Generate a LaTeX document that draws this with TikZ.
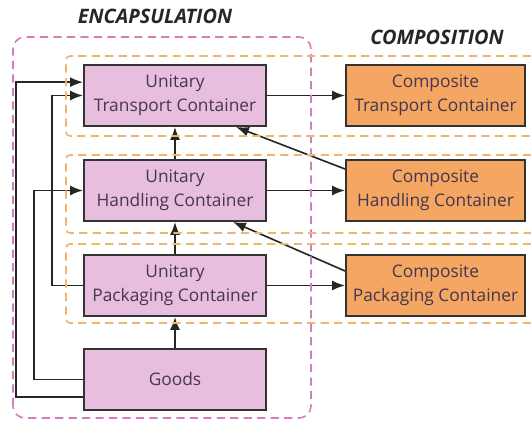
\documentclass[tikz,border=0pt]{standalone}
\usepackage{fontspec}
\setmainfont{Open Sans}
\usetikzlibrary{positioning,arrows.meta}

\definecolor{unitfill}{RGB}{232,190,222}
\definecolor{compfill}{RGB}{244,166,98}
\definecolor{encline}{RGB}{214,124,184}
\definecolor{compline}{RGB}{243,178,112}
\definecolor{boxtext}{RGB}{68,55,78}

\begin{document}
\begin{tikzpicture}[
        node distance=0.96cm and 2.34cm, % Расстояния между блоками
        box/.style={draw=black!80, line width=1.7pt, minimum height=1.83cm, align=center, text=boxtext, font=\fontsize{14.8}{20.5}\selectfont},
        unit/.style={box, fill=unitfill, minimum width=5.46cm}, % Одиночные контейнеры
        comp/.style={box, fill=compfill, minimum width=5.37cm}, % Составные контейнеры
        flow/.style={draw=black!85, line width=1.4pt, -{Latex[length=11pt,width=8.5pt]}},
        frame/.style={dash pattern=on 7pt off 4.5pt, line width=1.4pt},
        title/.style={font=\fontsize{17}{20}\selectfont\bfseries\itshape, text=black!85},
    ]
    \useasboundingbox (0,0) rectangle (15.93,12.6);

    \node[unit] (ut) at (5.25,9.735) {Unitary\\Transport Container};
    \node[unit, below=of ut] (uh) {Unitary\\Handling Container};
    \node[unit, below=of uh] (up) {Unitary\\Packaging Container};
    \node[unit, below=0.93cm of up] (goods) {Goods};

    \node[comp, right=of ut] (ct) {Composite\\Transport Container};
    \node[comp, right=of uh] (ch) {Composite\\Handling Container};
    \node[comp, right=of up] (cp) {Composite\\Packaging Container};

    \node[title] (enc) at (4.65,12.1) {ENCAPSULATION};
    \node[title] (compo) at (13.11,11.49) {COMPOSITION};

    % Связи
    \draw[flow] (ut.east) -- (ct.west);
    \draw[flow] (uh.east) -- (ch.west);
    \draw[flow] (up.east) -- (cp.west);
    \draw[flow] (goods) -- (up);
    \draw[flow] (up) -- (uh);
    \draw[flow] (uh) -- (ut);
    \draw[flow] ([yshift=-0.3cm]ch.north west) -- ([xshift=-0.93cm]ut.south east);
    \draw[flow] ([yshift=-0.51cm]cp.north west) -- ([xshift=-1.02cm]uh.south east);
    \draw[flow] ([yshift=-0.52cm]goods.west) -- ++(-2.01cm,0) |- ([yshift=0.4cm]ut.west);
    \draw[flow] (goods.west) -- ++(-1.47cm,0) |- (uh.west);
    \draw[flow] (up.west) -- ++(-0.93cm,0) |- (ut.west);

    % Рамки
    \draw[frame, draw=encline, rounded corners=0.36cm] (0.39,0.06) rectangle (9.33,11.49);
    \draw[frame, draw=compline, rounded corners=0.12cm] (15.93,10.92) -- (1.98,10.92) -- (1.98,8.52) -- (15.93,8.52);
    \draw[frame, draw=compline, rounded corners=0.12cm] (15.93,7.95) -- (1.98,7.95) -- (1.98,5.61) -- (15.93,5.61);
    \draw[frame, draw=compline, rounded corners=0.12cm] (15.93,5.28) -- (1.98,5.28) -- (1.98,2.91) -- (15.93,2.91);
\end{tikzpicture}
\end{document}
